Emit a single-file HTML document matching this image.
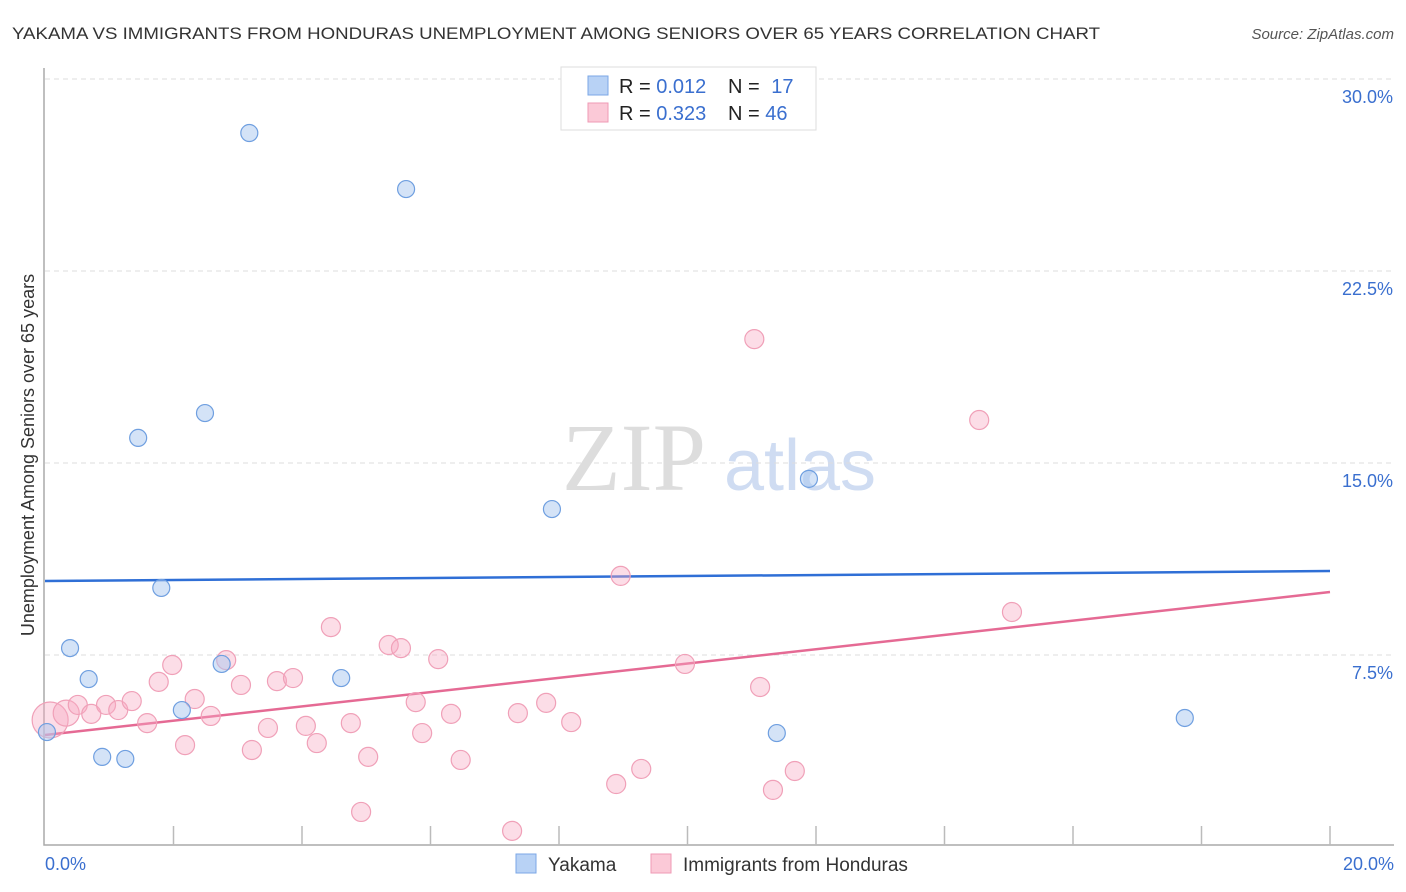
<!DOCTYPE html>
<html><head><meta charset="utf-8"><style>
body{margin:0;background:#fff;}
svg{display:block;font-family:"Liberation Sans",sans-serif;}
</style></head><body>
<svg id="c" width="1406" height="892">
<text x="12" y="39" font-size="17" fill="#333" textLength="1088" lengthAdjust="spacingAndGlyphs">YAKAMA VS IMMIGRANTS FROM HONDURAS UNEMPLOYMENT AMONG SENIORS OVER 65 YEARS CORRELATION CHART</text>
<text x="1394" y="39" font-size="15" fill="#555" font-style="italic" text-anchor="end">Source: ZipAtlas.com</text>
<text x="634" y="490" font-size="96" fill="#ddd" font-family="Liberation Serif,serif" text-anchor="middle">ZIP</text>
<text x="800" y="490" font-size="72" fill="#cfdcf2" text-anchor="middle">atlas</text>
<g id="grid"></g><g id="axes"></g><g id="lines"></g><g id="pts"></g>
<text transform="translate(34,455) rotate(-90)" font-size="18" fill="#333" text-anchor="middle">Unemployment Among Seniors over 65 years</text>
<text x="45" y="870" font-size="18" fill="#3a6fcf">0.0%</text>
<text x="1394" y="870" font-size="18" fill="#3a6fcf" text-anchor="end">20.0%</text>
<g>
<rect x="561" y="67" width="255" height="63" fill="#fff" stroke="#ddd"/>
<rect x="588" y="76" width="20" height="19" fill="#b8d2f5" stroke="#7ba7e6"/>
<rect x="588" y="103" width="20" height="19" fill="#fbc9d7" stroke="#ef9ab4"/>
<text x="619" y="93" font-size="20" fill="#222">R = <tspan fill="#3a6fcf">0.012</tspan></text>
<text x="728" y="93" font-size="20" fill="#222">N = <tspan fill="#3a6fcf" dx="6">17</tspan></text>
<text x="619" y="120" font-size="20" fill="#222">R = <tspan fill="#3a6fcf">0.323</tspan></text>
<text x="728" y="120" font-size="20" fill="#222">N = <tspan fill="#3a6fcf">46</tspan></text>
</g>
<g>
<rect x="516" y="854" width="20" height="19" fill="#b8d2f5" stroke="#7ba7e6"/>
<text x="548" y="871" font-size="19" fill="#333">Yakama</text>
<rect x="651" y="854" width="20" height="19" fill="#fbc9d7" stroke="#ef9ab4"/>
<text x="683" y="871" font-size="19" fill="#333">Immigrants from Honduras</text>
</g>
</svg>
<script>
const yTicks=[7.5,15,22.5,30];
const yTickLabels=["7.5%","15.0%","22.5%","30.0%"];
const yakamaX=[0.03,0.39,0.68,0.89,1.25,1.45,1.81,2.13,2.49,2.75,3.18,4.61,5.62,7.89,11.39,11.89,17.74];
const yakamaY=[4.49,7.77,6.56,3.52,3.44,15.98,10.12,5.35,16.95,7.15,27.89,6.60,25.70,13.20,4.45,14.38,5.04];
const hondX=[0.08,0.33,0.51,0.72,0.95,1.14,1.35,1.59,1.77,1.98,2.18,2.33,2.58,2.82,3.05,3.22,3.47,3.61,3.86,4.06,4.23,4.45,4.76,4.92,5.03,5.35,5.54,5.77,5.87,6.12,6.32,6.47,7.27,7.36,7.80,8.19,8.89,8.96,9.28,9.96,11.04,11.13,11.33,11.67,14.54,15.05];
const hondY=[4.96,5.23,5.55,5.2,5.55,5.35,5.7,4.84,6.45,7.11,3.98,5.78,5.12,7.3,6.33,3.79,4.65,6.48,6.6,4.73,4.06,8.59,4.84,1.37,3.52,7.89,7.77,5.66,4.45,7.34,5.2,3.4,0.63,5.23,5.63,4.88,2.46,10.59,3.05,7.15,19.84,6.25,2.23,2.97,16.68,9.18];
const hondR=[18,13,9.5,9.5,9.5,9.5,9.5,9.5,9.5,9.5,9.5,9.5,9.5,9.5,9.5,9.5,9.5,9.5,9.5,9.5,9.5,9.5,9.5,9.5,9.5,9.5,9.5,9.5,9.5,9.5,9.5,9.5,9.5,9.5,9.5,9.5,9.5,9.5,9.5,9.5,9.5,9.5,9.5,9.5,9.5,9.5];
const trendYakama=[10.39,10.78];
const trendHond=[4.375,9.96];
const xs=v=>45+v*64.25, ys=v=>847-v*25.6;
const NS="http://www.w3.org/2000/svg";
function mk(p,t,a){const e=document.createElementNS(NS,t);for(const k in a)e.setAttribute(k,a[k]);document.getElementById(p).appendChild(e);return e;}
yTicks.forEach((t,i)=>{
 const g=mk('grid','line',{x1:45,x2:1394,y1:ys(t),y2:ys(t),stroke:'#ddd','stroke-dasharray':'5,4'});
 
 
 const l=mk('grid','text',{x:1393,y:ys(t)+24,'font-size':18,fill:'#3a6fcf','text-anchor':'end'});l.textContent=yTickLabels[i];
 
 
});
const ax=mk('axes','path',{d:'M44,68V845H1394',fill:'none',stroke:'#aaa','stroke-width':1.5});


for(let i=1;i<=10;i++){const t=mk('axes','line',{x1:xs(i*2),x2:xs(i*2),y1:826,y2:845,stroke:'#bbb','stroke-width':1.5});
 
 }
const l1=mk('lines','line',{x1:xs(0),x2:xs(20),y1:ys(trendYakama[0]),y2:ys(trendYakama[1]),stroke:'#2f6fd6','stroke-width':2.5});


const l2=mk('lines','line',{x1:xs(0),x2:xs(20),y1:ys(trendHond[0]),y2:ys(trendHond[1]),stroke:'#e56a94','stroke-width':2.5});


hondX.forEach((x,i)=>{const c=mk('pts','circle',{cx:xs(x),cy:ys(hondY[i]),r:hondR[i],fill:'rgba(247,170,195,0.4)',stroke:'#f0a0b8','stroke-width':1.2});
 
 });
yakamaX.forEach((x,i)=>{const c=mk('pts','circle',{cx:xs(x),cy:ys(yakamaY[i]),r:8.5,fill:'rgba(170,200,240,0.5)',stroke:'#6f9fe0','stroke-width':1.2});
 
 });
</script>
</body></html>
